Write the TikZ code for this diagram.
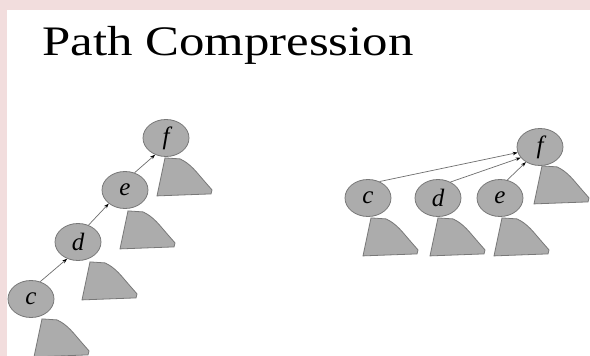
\documentclass[tikz,border=0pt]{standalone}
\usepackage{fontspec}
\setmainfont{Liberation Serif}
\usetikzlibrary{shapes.geometric,arrows.meta}

\definecolor{bgpink}{RGB}{242,221,221}
\definecolor{blobfill}{RGB}{172,172,172}
\definecolor{blobline}{RGB}{120,120,120}
\definecolor{linkgray}{RGB}{110,110,110}

\tikzset{
  setnode/.style={ellipse, draw=blobline, fill=blobfill, line width=0.8pt,
    minimum width=46pt, minimum height=37pt, inner sep=0pt,
    font=\fontsize{25}{25}\selectfont\itshape},
  link/.style={draw=linkgray, line width=0.7pt,
    -{Stealth[length=5pt,width=3.5pt,color=black]}},
  subtree/.pic={
    \path[draw=blobline, fill=blobfill, line width=0.8pt]
      (0,0) -- (15,1) .. controls (26,6) and (32,15) .. (40,24)
      -- (47,32) -- (46,36) -- (-8,38) -- cycle;
  }
}

\begin{document}
\begin{tikzpicture}[x=1pt, y=-1pt]
	% page and frame
	\useasboundingbox (0,0) rectangle (590,356);
	\fill[bgpink] (0,0) rectangle (590,356);
	\fill[white] (7,10) rectangle (590,356);
	\node[anchor=base west, inner sep=0pt, font=\fontsize{42}{48}\selectfont] (title) at (42,55) {\scalebox{1.21}[1]{Path Compression}};

	% before: a chain
	\node[setnode] (f1) at (166,138) {f};
	\node[setnode] (e1) at (125,190) {e};
	\node[setnode] (d1) at (78,242) {d};
	\node[setnode] (c1) at (31,299) {c};
	\pic at ([shift={(-1,1)}]f1.south) {subtree};
	\pic at ([shift={(3,2)}]e1.south) {subtree};
	\pic at ([shift={(12,1)}]d1.south) {subtree};
	\pic at ([shift={(11,1)}]c1.south) {subtree};
	\draw[link] (c1.62) -- (d1.237);
	\draw[link] (d1.58) -- (e1.220);
	\draw[link] (e1.61) -- (f1.237);

	% after: all point to the root
	\node[setnode] (f2) at (540,147) {f};
	\node[setnode] (c2) at (368,198) {c};
	\node[setnode] (d2) at (438,198) {d};
	\node[setnode] (e2) at (500,198) {e};
	\pic at ([shift={(2,0)}]f2.south) {subtree};
	\pic at ([shift={(3,1)}]c2.south) {subtree};
	\pic at ([shift={(0,1)}]d2.south) {subtree};
	\pic at ([shift={(2,1)}]e2.south) {subtree};
	\draw[link] (c2.55) -- (f2.194);
	\draw[link] (d2.52) -- (f2.209);
	\draw[link] (e2.68) -- (f2.227);
\end{tikzpicture}
\end{document}
